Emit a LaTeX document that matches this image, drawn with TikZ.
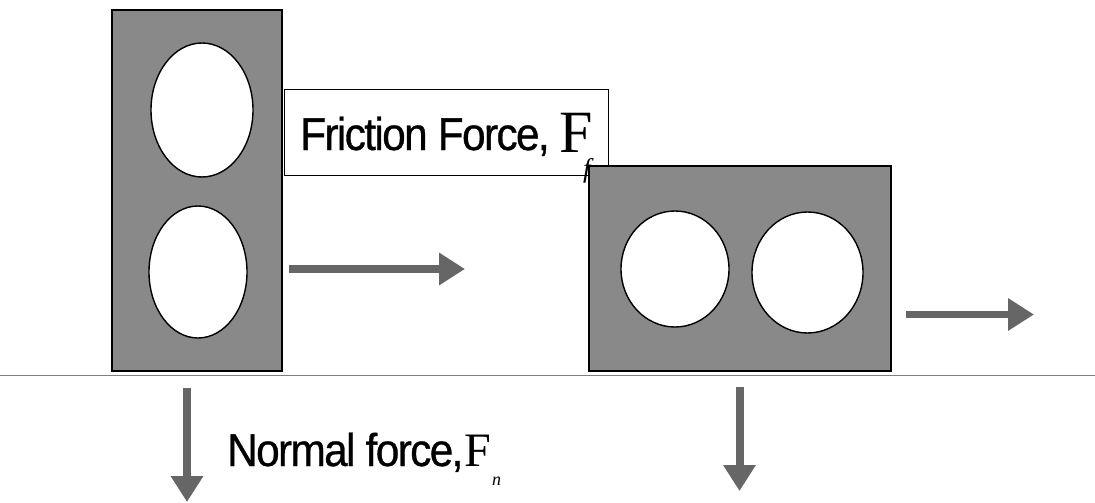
\documentclass[tikz,border=0pt]{standalone}
\usepackage{fontspec}
\usetikzlibrary{arrows.meta}
\newfontfamily\condsans[FakeStretch=0.92,LetterSpace=-3.5,FakeBold=0.7]{Liberation Sans}
\newfontfamily\tnr{Liberation Serif}
\definecolor{blockgray}{HTML}{898989}
\definecolor{arrowgray}{HTML}{666666}
\definecolor{groundgray}{HTML}{7F7F7F}
\tikzset{
  block/.style={draw=black, line width=1.6pt, fill=blockgray},
  hole/.style={draw=black, line width=1.4pt, fill=white},
  force/.style={draw=arrowgray, line width=8pt, -{Triangle[length=26pt,width=31pt]}},
  label/.style={inner sep=0pt, anchor=base west},
  bigtext/.style={label, font=\fontsize{46}{46}\selectfont\condsans},
}
\begin{document}
\begin{tikzpicture}[x=1pt,y=-1pt]
\useasboundingbox (0,0) rectangle (1095,503);
% tall block
\draw[block] (112,10) rectangle (282,371);
\draw[hole] (202,110) ellipse [x radius=51, y radius=67];
\draw[hole] (198,272) ellipse [x radius=49, y radius=66];
% friction label box
\node[draw=black, line width=1.4pt, fill=white, minimum width=324pt, minimum height=86pt, inner sep=0pt, anchor=north west] (fbox) at (284,89) {};
\node[bigtext] (ftext) at (300,150) {Friction Force,};
\node[label, font=\fontsize{60}{60}\selectfont\tnr] (fF) at (559,152) {F};
% wide block
\draw[block] (589,166) rectangle (891,371);
\draw[hole] (675,269) ellipse [x radius=54, y radius=58];
\draw[hole] (807.5,272.5) ellipse [x radius=55.5, y radius=60.5];
\node[label, font=\fontsize{27}{27}\selectfont\tnr\itshape] (fsub) at (583,177) {f};
% ground
\coordinate (gl) at (0,375.5);
\coordinate (gr) at (1095,375.5);
\draw[groundgray, line width=1.5pt] (gl) -- (gr);
% force arrows
\coordinate (a1s) at (289,269);
\coordinate (a1e) at (465,269);
\coordinate (a2s) at (906,314.5);
\coordinate (a2e) at (1034,314.5);
\coordinate (d1s) at (187,388);
\coordinate (d1e) at (187,502);
\coordinate (d2s) at (739.5,387);
\coordinate (d2e) at (739.5,491);
\draw[force] (a1s) -- (a1e);
\draw[force, line width=7pt] (a2s) -- (a2e);
\draw[force] (d1s) -- (d1e);
\draw[force] (d2s) -- (d2e);
% normal force label
\node[bigtext] (ntext) at (227,466) {Normal force,};
\node[label, font=\fontsize{48}{48}\selectfont\tnr] (nF) at (464,466) {F};
\node[label, font=\fontsize{18}{18}\selectfont\tnr\itshape] (nsub) at (492,485) {n};
\end{tikzpicture}
\end{document}
